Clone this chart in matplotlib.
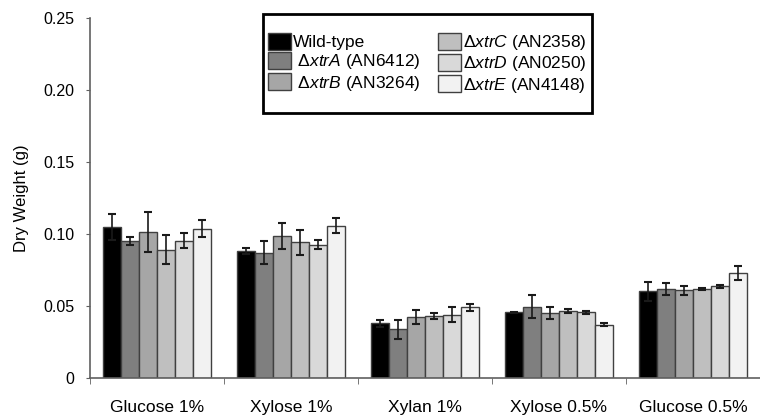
import matplotlib
matplotlib.use('Agg')
import matplotlib.pyplot as plt
from matplotlib.patches import Rectangle
import numpy as np

plt.rcParams['font.family'] = ['Liberation Sans', 'DejaVu Sans']
plt.rcParams['mathtext.fontset'] = 'custom'
plt.rcParams['mathtext.rm'] = 'Liberation Sans'
plt.rcParams['mathtext.it'] = 'Liberation Sans:italic'

# Data
conditions = ['Glucose 1%', 'Xylose 1%', 'Xylan 1%', 'Xylose 0.5%', 'Glucose 0.5%']
strains = ['Wild-type',
           r' $\mathit{Δxtr A}$ (AN6412)',
           r' $\mathit{Δxtr B}$ (AN3264)',
           r'$\mathit{Δxtr C}$ (AN2358)',
           r'$\mathit{Δxtr D}$ (AN0250)',
           r'$\mathit{Δxtr E}$ (AN4148)']

wild_type = [0.1047, 0.0882, 0.0380, 0.0456, 0.0602]
xtrA = [0.0951, 0.0868, 0.0338, 0.0495, 0.0618]
xtrB = [0.1014, 0.0984, 0.0424, 0.0449, 0.0609]
xtrC = [0.0889, 0.0942, 0.0430, 0.0465, 0.0618]
xtrD = [0.0954, 0.0926, 0.0440, 0.0456, 0.0637]
xtrE = [0.1037, 0.1058, 0.0490, 0.0370, 0.0727]

wild_type_err = [0.0090, 0.0020, 0.0025, 0.0005, 0.0067]
xtrA_err = [0.0030, 0.0080, 0.0065, 0.0080, 0.0040]
xtrB_err = [0.0140, 0.0090, 0.0046, 0.0042, 0.0030]
xtrC_err = [0.0100, 0.0085, 0.0020, 0.0015, 0.0010]
xtrD_err = [0.0055, 0.0033, 0.0050, 0.0010, 0.0010]
xtrE_err = [0.0060, 0.0053, 0.0025, 0.0012, 0.0050]

values = [wild_type, xtrA, xtrB, xtrC, xtrD, xtrE]
errors = [wild_type_err, xtrA_err, xtrB_err, xtrC_err, xtrD_err, xtrE_err]
colors = ['#000000', '#7f7f7f', '#a6a6a6', '#bfbfbf', '#d9d9d9', '#f2f2f2']

fig = plt.figure(figsize=(7.6, 4.17), dpi=100)
ax = fig.add_axes([0.118, 0.0935, 0.882, 0.864])

x = np.arange(len(conditions)) + 0.5
width = 0.134
for i, (vals, errs) in enumerate(zip(values, errors)):
    pos = x + (i - 2.5) * width
    ax.bar(pos, vals, width, color=colors[i], edgecolor='#404040', linewidth=1,
           label=strains[i], zorder=2)
    ax.errorbar(pos, vals, yerr=errs, fmt='none', ecolor='#1a1a1a',
                elinewidth=1.2, capsize=3, capthick=1.5, zorder=3)

ax.set_xlim(0, 5)
ax.set_ylim(0, 0.25)
ax.set_xticks(x)
ax.set_xticklabels(conditions, fontsize=12.5)
ax.set_xticks(np.arange(0, 6), minor=True)
ax.tick_params(axis='x', which='major', length=0, pad=16)
ax.tick_params(axis='x', which='minor', length=4, color='#606060', direction='out')
ax.set_yticks([0, 0.05, 0.10, 0.15, 0.20, 0.25])
ax.set_yticklabels(['0', '0.05', '0.10', '0.15', '0.20', '0.25'], fontsize=11.5)
ax.tick_params(axis='y', length=3, color='#606060', pad=8)
ax.set_ylabel('Dry Weight (g)', fontsize=12, labelpad=10)

for s in ['top', 'right']:
    ax.spines[s].set_visible(False)
for s in ['left', 'bottom']:
    ax.spines[s].set_color('#606060')
    ax.spines[s].set_linewidth(1.2)

# legend box drawn separately so its padding can match the original
box = (0.346, 0.729, 0.433, 0.237)
fig.patches.append(Rectangle(box[:2], box[2], box[3], transform=fig.transFigure,
                             facecolor='white', edgecolor='black', linewidth=2, zorder=4))
leg = fig.legend(loc='center', bbox_to_anchor=box, mode='expand', ncol=2,
                 fontsize=12.5, frameon=False,
                 handlelength=1.3, handleheight=1.15, handletextpad=0.15,
                 labelspacing=0.1, columnspacing=0.8, borderaxespad=0,
                 borderpad=0.3)
leg.set_zorder(5)

plt.savefig('out.png', dpi=100)
